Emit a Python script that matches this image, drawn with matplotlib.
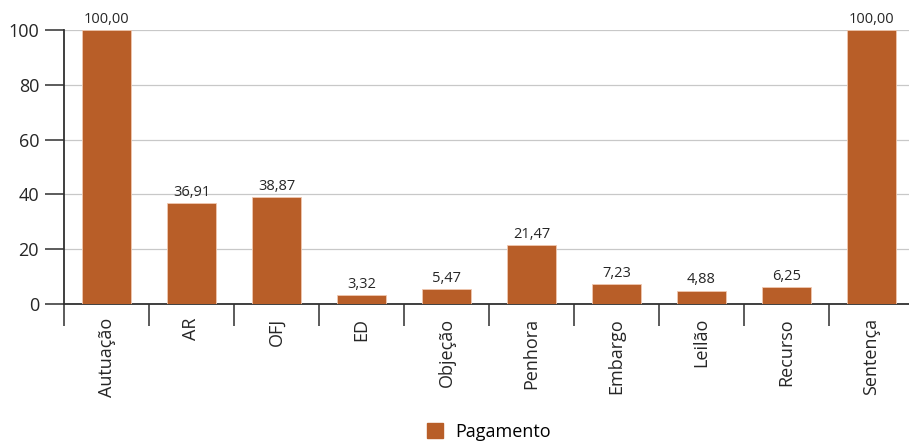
import matplotlib.pyplot as plt
import numpy as np
from matplotlib.patches import Patch

plt.rcParams['font.family'] = ['Open Sans', 'DejaVu Sans']

etapas = ['Autuação', 'AR', 'OFJ', 'ED', 'Objeção', 'Penhora',
          'Embargo', 'Leilão', 'Recurso', 'Sentença']
pagamento = [100.00, 36.91, 38.87, 3.32, 5.47, 21.47, 7.23, 4.88, 6.25, 100.00]

cor = '#b85e28'
texto = '#262626'

fig = plt.figure(figsize=(9.09, 4.45), dpi=100)
ax = fig.add_axes([64 / 909, 1 - 304 / 445, 1 - 64 / 909, 274 / 445])

x = np.arange(len(etapas))
barras = ax.bar(x, pagamento, width=0.565, color=cor, edgecolor='#f0c8b0',
                linewidth=0.6, zorder=3)

# rótulos de valor com vírgula decimal
for xi, v in zip(x, pagamento):
    ax.text(xi, v + 1.2, f'{v:.2f}'.replace('.', ','), ha='center', va='bottom',
            fontsize=10.5, color=texto)

ax.set_xlim(-0.5, -0.5 + 845 / 85)
ax.set_ylim(0, 100)
ax.set_yticks([0, 20, 40, 60, 80, 100])
ax.tick_params(axis='y', length=14, width=1.2, color='#404040',
               labelsize=13, labelcolor=texto, pad=4)
ax.grid(axis='y', color='#c8c8c8', linewidth=0.9, zorder=0)

# marcas entre as categorias, rótulos no centro
ax.set_xticks(np.arange(len(etapas)) - 0.5, minor=False)
ax.set_xticklabels([])
ax.tick_params(axis='x', which='major', length=16, width=1.2, color='#404040')
ax.set_xticks(x, minor=True)
ax.set_xticklabels(etapas, minor=True, rotation=90, fontsize=13, color=texto)
ax.tick_params(axis='x', which='minor', length=0, pad=10)

for s in ['top', 'right']:
    ax.spines[s].set_visible(False)
ax.spines['left'].set_color('#303030')
ax.spines['left'].set_linewidth(1.3)
ax.spines['bottom'].set_color('#303030')
ax.spines['bottom'].set_linewidth(1.3)

fig.legend(handles=[Patch(color=cor, label='Pagamento')], loc='lower center',
           bbox_to_anchor=(0.538, -0.028), frameon=False, fontsize=13,
           handlelength=0.9, handleheight=0.9, handletextpad=0.7)

fig.savefig('out.png', dpi=100)
